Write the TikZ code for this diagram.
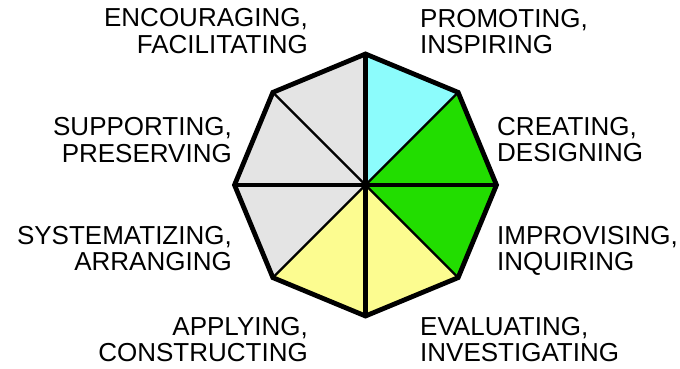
\documentclass[tikz,border=0pt]{standalone}
\usepackage{fontspec}
\newfontfamily\rolefont{Liberation Sans}
\usetikzlibrary{positioning,calc}
\definecolor{sectcyan}{RGB}{140,252,252}
\definecolor{sectgreen}{RGB}{34,221,0}
\definecolor{sectyellow}{RGB}{252,252,144}
\definecolor{sectgray}{RGB}{228,228,228}
\tikzset{spoke/.style={draw=black, line width=2.2pt}}
\tikzset{axis/.style={draw=black, line width=4.4pt}}
\tikzset{rim/.style={draw=black, line width=4.8pt, line join=miter}}
\tikzset{role/.style={font=\rolefont\fontsize{26}{26.5}\selectfont, inner sep=0pt}}
\tikzset{roleleft/.style={role, anchor=base east, align=right}}
\tikzset{roleright/.style={role, anchor=base west, align=left}}

\begin{document}
\begin{tikzpicture}[x=1pt, y=1pt]
    \useasboundingbox (0,0) rectangle (680,369);

    %%%% Octagon corners
    \coordinate (c) at (365.5,184);
    \foreach \i in {0,...,7}
        \coordinate (v\i) at ($(c)+({90-45*\i}:131)$);

    %%%% Sector fills
    \foreach \i/\j/\col in {0/1/sectcyan, 1/2/sectgreen, 2/3/sectgreen, 3/4/sectyellow,
                            4/5/sectyellow, 5/6/sectgray, 6/7/sectgray, 7/0/sectgray}
        \fill[\col] (c) -- (v\i) -- (v\j) -- cycle;

    %%%% Spokes
    \foreach \i in {1,3,5,7}
        \draw[spoke] (c) -- (v\i);
    \draw[axis] (v0) -- (v4);
    \draw[axis] (v2) -- (v6);

    %%%% Rim
    \draw[rim] (v0) -- (v1) -- (v2) -- (v3) -- (v4) -- (v5) -- (v6) -- (v7) -- cycle;

    %%%% Left labels (anchored on the last line)
    \node[roleleft] (encouraging) at (308,315.5)  {ENCOURAGING,\\FACILITATING};
    \node[roleleft] (supporting)  at (232,206.5)  {SUPPORTING,\\PRESERVING};
    \node[roleleft] (systematizing) at (232,98.3) {SYSTEMATIZING,\\ARRANGING};
    \node[roleleft] (applying)    at (308,7.3)    {APPLYING,\\CONSTRUCTING};

    %%%% Right labels
    \node[roleright] (promoting)  at (420,315)    {PROMOTING,\\INSPIRING};
    \node[roleright] (creating)   at (497,207)    {CREATING,\\DESIGNING};
    \node[roleright] (improvising) at (497,98.3)  {IMPROVISING,\\INQUIRING};
    \node[roleright] (evaluating) at (420,7.3)    {EVALUATING,\\INVESTIGATING};
\end{tikzpicture}
\end{document}
